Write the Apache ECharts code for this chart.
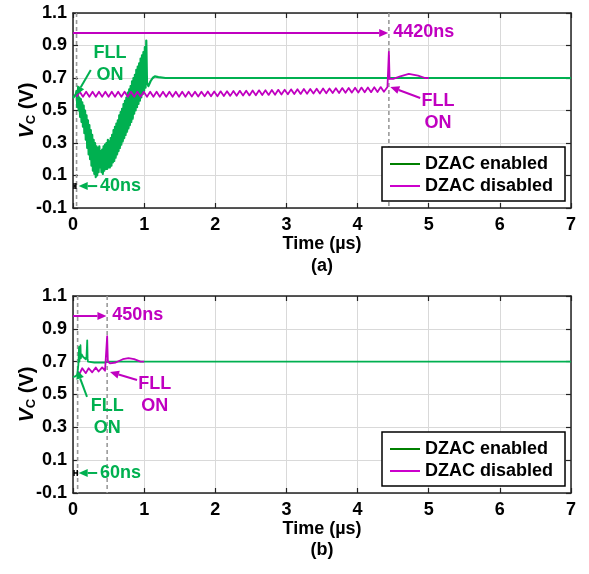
<!DOCTYPE html>
<html><head><meta charset="utf-8">
<script src="https://cdn.jsdelivr.net/npm/echarts@6/dist/echarts.min.js"></script>
<style>html,body{margin:0;padding:0;background:#fff}#c{width:589px;height:574px}</style>
</head><body><div id="c"></div>
<script>
// ---------- data ----------
const xTicks = [0, 1, 2, 3, 4, 5, 6, 7];
const yTicks = [-0.1, 0.1, 0.3, 0.5, 0.7, 0.9, 1.1];
const seriesNames = ['DZAC enabled', 'DZAC disabled'];

// (a) DZAC enabled  [time µs, Vc V]
const enabledA = [
  [0,0.577],[0.02,0.585],[0.04,0.6],
  [0.05,0.62],[0.06,0.52],[0.07,0.60],[0.08,0.50],[0.09,0.58],[0.10,0.46],[0.11,0.57],[0.12,0.43],
  [0.13,0.55],[0.14,0.40],[0.15,0.53],[0.16,0.36],[0.17,0.50],[0.18,0.32],[0.19,0.47],[0.20,0.27],
  [0.21,0.44],[0.22,0.23],[0.23,0.41],[0.24,0.20],[0.25,0.38],[0.26,0.16],[0.27,0.35],[0.28,0.13],
  [0.29,0.32],[0.30,0.11],[0.31,0.30],[0.32,0.09],[0.33,0.28],[0.34,0.10],[0.35,0.27],[0.36,0.12],
  [0.37,0.28],[0.38,0.15],[0.39,0.25],[0.40,0.12],[0.41,0.26],[0.42,0.11],[0.43,0.28],[0.44,0.13],
  [0.45,0.29],[0.46,0.14],[0.47,0.30],[0.48,0.14],[0.49,0.32],[0.50,0.15],
  [0.51,0.31],[0.52,0.15],[0.53,0.33],[0.54,0.16],[0.55,0.35],[0.56,0.18],[0.57,0.38],[0.58,0.19],
  [0.59,0.40],[0.60,0.21],[0.61,0.42],[0.62,0.23],[0.63,0.44],[0.64,0.25],[0.65,0.47],[0.66,0.27],
  [0.67,0.49],[0.68,0.29],[0.69,0.51],[0.70,0.31],[0.71,0.54],[0.72,0.33],[0.73,0.56],[0.74,0.35],
  [0.75,0.58],[0.76,0.37],[0.77,0.61],[0.78,0.39],[0.79,0.63],[0.80,0.41],[0.81,0.65],[0.82,0.43],
  [0.83,0.68],[0.84,0.45],[0.85,0.70],[0.86,0.48],[0.87,0.72],[0.88,0.50],[0.89,0.75],[0.90,0.52],
  [0.91,0.77],[0.92,0.54],[0.93,0.79],[0.94,0.56],[0.95,0.82],[0.96,0.58],[0.97,0.84],[0.98,0.60],
  [0.99,0.86],[1.00,0.62],[1.01,0.89],[1.02,0.64],[1.03,0.93],[1.04,0.67],[1.06,0.65],[1.09,0.68],
  [1.12,0.70],[1.15,0.71],[1.2,0.705],[1.3,0.70],[7,0.70]
];
// (a) DZAC disabled
const disabledA = [
  [0.050,0.585],[0.095,0.615],[0.140,0.585],[0.185,0.615],[0.230,0.585],[0.275,0.615],[0.320,0.585],
  [0.365,0.615],[0.410,0.585],[0.455,0.615],[0.500,0.585],[0.545,0.615],[0.590,0.585],[0.635,0.615],
  [0.680,0.585],[0.725,0.615],[0.770,0.585],[0.815,0.615],[0.860,0.585],[0.905,0.615],[0.950,0.585],
  [0.995,0.615],[1.040,0.585],[1.085,0.615],[1.130,0.585],[1.175,0.615],[1.220,0.585],[1.265,0.615],
  [1.310,0.585],[1.355,0.615],[1.400,0.585],[1.445,0.615],[1.490,0.585],[1.535,0.615],[1.580,0.585],
  [1.625,0.615],[1.670,0.586],[1.715,0.616],[1.760,0.586],[1.805,0.616],[1.850,0.587],[1.895,0.617],
  [1.940,0.587],[1.985,0.617],[2.030,0.588],[2.075,0.618],[2.120,0.589],[2.165,0.619],[2.210,0.590],
  [2.255,0.620],[2.300,0.591],[2.345,0.621],[2.390,0.592],[2.435,0.622],[2.480,0.593],[2.525,0.623],
  [2.570,0.594],[2.615,0.624],[2.660,0.595],[2.705,0.625],[2.750,0.596],[2.795,0.626],[2.840,0.597],
  [2.885,0.627],[2.930,0.598],[2.975,0.628],[3.020,0.600],[3.065,0.630],[3.110,0.601],[3.155,0.631],
  [3.200,0.602],[3.245,0.632],[3.290,0.603],[3.335,0.633],[3.380,0.604],[3.425,0.634],[3.470,0.605],
  [3.515,0.635],[3.560,0.606],[3.605,0.636],[3.650,0.607],[3.695,0.637],[3.740,0.608],[3.785,0.638],
  [3.830,0.609],[3.875,0.639],[3.920,0.610],[3.965,0.640],[4.010,0.611],[4.055,0.641],[4.100,0.612],
  [4.145,0.642],[4.190,0.613],[4.235,0.643],[4.280,0.614],[4.325,0.644],[4.370,0.615],[4.420,0.645],
  [4.44,0.86],[4.45,0.695],[4.5,0.695],[4.6,0.71],[4.72,0.725],[4.85,0.715],[4.95,0.70],[5.0,0.70]
];
// (b) DZAC enabled
const enabledB = [
  [0,0.605],[0.03,0.61],[0.06,0.62],[0.075,0.68],[0.085,0.79],[0.09,0.70],[0.095,0.74],[0.105,0.80],
  [0.11,0.72],[0.12,0.745],[0.14,0.73],[0.16,0.72],[0.18,0.715],[0.19,0.73],[0.2,0.83],[0.205,0.72],
  [0.21,0.70],[0.3,0.695],[0.46,0.695],[0.5,0.70],[7,0.70]
];
// (b) DZAC disabled
const disabledB = [
  [0.065,0.64],[0.09,0.625],[0.13,0.66],[0.18,0.63],[0.22,0.66],[0.27,0.635],[0.32,0.665],[0.36,0.64],
  [0.41,0.665],[0.45,0.645],[0.47,0.655],[0.48,0.855],[0.49,0.70],[0.52,0.69],[0.6,0.695],[0.7,0.715],
  [0.78,0.722],[0.86,0.715],[0.95,0.70],[1.0,0.70]
];

// ---------- styles ----------
const FONT = '"Liberation Sans", Arial, sans-serif';
const GREEN = '#00b050', MAGENTA = '#c000c0';
const LEG_GREEN = '#008000', LEG_MAGENTA = '#cc00cc';
const GRIDS = [{top: 13, height: 195}, {top: 296, height: 197}];

function xAxes(g) {
  return [{
    gridIndex: g, type: 'value', min: 0, max: 7, interval: 1, position: 'bottom',
    axisLine: {onZero: false, lineStyle: {color: '#222', width: 1.5}},
    axisTick: {inside: true, length: 5, lineStyle: {color: '#222', width: 1.2}},
    axisLabel: {color: '#000', fontFamily: FONT, fontWeight: 'bold', fontSize: 18, margin: 8},
    splitLine: {show: true, lineStyle: {color: '#d9d9d9', width: 1}},
    name: 'Time (µs)', nameLocation: 'middle', nameGap: 27,
    nameTextStyle: {color: '#000', fontFamily: FONT, fontWeight: 'bold', fontSize: 18}
  }, {
    gridIndex: g, type: 'value', min: 0, max: 7, interval: 1, position: 'top',
    axisLine: {onZero: false, lineStyle: {color: '#222', width: 1.5}},
    axisTick: {inside: true, length: 5, lineStyle: {color: '#222', width: 1.2}},
    axisLabel: {show: false}, splitLine: {show: false}
  }];
}
function yAxes(g) {
  const common = {
    gridIndex: g, type: 'value', min: -0.1, max: 1.1,
    axisLine: {onZero: false, lineStyle: {color: '#222', width: 1.5}},
    axisTick: {inside: true, length: 5, customValues: yTicks, lineStyle: {color: '#222', width: 1.2}}
  };
  return [Object.assign({}, common, {
    position: 'left',
    axisLabel: {customValues: yTicks, color: '#000', fontFamily: FONT, fontWeight: 'bold', fontSize: 18, margin: 6,
      formatter: v => v.toFixed(1)},
    splitLine: {show: true, lineStyle: {color: '#d9d9d9', width: 1}},
    name: '{v|V}{c|C}{n| (V)}', nameLocation: 'middle', nameGap: 35, nameRotate: 90, nameMoveOverlap: false,
    nameTextStyle: {rich: {
      v: {fontFamily: FONT, fontWeight: 'bold', fontStyle: 'italic', fontSize: 21, color: '#000'},
      c: {fontFamily: FONT, fontWeight: 'bold', fontSize: 13, color: '#000', verticalAlign: 'bottom', padding: [6, 0, 0, 0]},
      n: {fontFamily: FONT, fontWeight: 'bold', fontSize: 20, color: '#000'}
    }}
  }), Object.assign({}, common, {
    position: 'right', axisLabel: {show: false}, splitLine: {show: false}
  })];
}
function legend(g, top) {
  return {
    show: true, orient: 'vertical', left: 382, top: top, width: 183,
    backgroundColor: '#fff', borderColor: '#000', borderWidth: 1.5,
    padding: [8, 12, 6, 8], itemGap: 4, itemWidth: 30, itemHeight: 2,
    selectedMode: false,
    textStyle: {color: '#000', fontFamily: FONT, fontWeight: 'bold', fontSize: 18, lineHeight: 18},
    data: [
      {name: seriesNames[0], icon: 'rect', itemStyle: {color: LEG_GREEN}},
      {name: seriesNames[1], icon: 'rect', itemStyle: {color: LEG_MAGENTA}}
    ]
  };
}
function line(name, data, color, g, w) {
  return {
    name, type: 'line', data, xAxisIndex: 2 * g, yAxisIndex: 2 * g, showSymbol: false, symbol: 'none',
    lineStyle: {color, width: w || 1.8, join: 'round'}, itemStyle: {color}, animation: false, z: 3
  };
}

const chart = echarts.init(document.getElementById('c'), null, {renderer: 'canvas'});
chart.setOption({
  animation: false,
  backgroundColor: '#fff',
  grid: GRIDS.map(g => ({left: 73, right: 18, top: g.top, height: g.height, containLabel: false})),
  xAxis: [].concat(xAxes(0), xAxes(1)),
  yAxis: [].concat(yAxes(0), yAxes(1)),
  legend: [legend(0, 147), legend(1, 432)],
  series: [
    line(seriesNames[0], enabledA, GREEN, 0, 2.2),
    line(seriesNames[1], disabledA, MAGENTA, 0),
    line(seriesNames[0], enabledB, GREEN, 1),
    line(seriesNames[1], disabledB, MAGENTA, 1)
  ]
});

// ---------- annotations (data coordinates, placed through the chart's scales) ----------
const annotations = [
  {g: 0, dashed: [0.05, 4.44],
   hArrow: {from: [0, 0.977], to: [4.43, 0.977], label: '4420ns', at: [4.50, 0.983]},
   greenTxt: [0.52, 0.783], greenArrow: [[0.25, 0.749], [0.045, 0.595]],
   magTxt: [5.13, 0.488], magArrow: [[4.88, 0.577], [4.46, 0.645]],
   span: {t1: 0.04, v: 0.035, label: '40ns', arrowFrom: 0.34, arrowTo: 0.08, textAt: 0.38}},
  {g: 1, dashed: [0.065, 0.48],
   hArrow: {from: [0, 0.978], to: [0.47, 0.978], label: '450ns', at: [0.55, 0.984]},
   greenTxt: [0.48, 0.363], greenArrow: [[0.197, 0.485], [0.056, 0.649]],
   magTxt: [1.15, 0.494], magArrow: [[0.90, 0.588], [0.52, 0.637]],
   span: {t1: 0.06, v: 0.022, label: '60ns', arrowFrom: 0.34, arrowTo: 0.08, textAt: 0.38}}
];
const els = [];
const px = (g, p) => chart.convertToPixel({gridIndex: g}, p);
function arrow(a, b, color, head = 9, w = 4) {
  const dx = b[0] - a[0], dy = b[1] - a[1], L = Math.hypot(dx, dy), ux = dx / L, uy = dy / L;
  const bx = b[0] - ux * head, by = b[1] - uy * head;
  els.push({type: 'line', z: 50, shape: {x1: a[0], y1: a[1], x2: bx, y2: by}, style: {stroke: color, lineWidth: 2}});
  els.push({type: 'polygon', z: 50, shape: {points: [[b[0], b[1]], [bx - uy * w, by + ux * w], [bx + uy * w, by - ux * w]]},
    style: {fill: color}});
}
function text(p, str, color, align) {
  els.push({type: 'text', z: 50, x: p[0], y: p[1], style: {text: str, fill: color,
    font: 'bold 18px ' + FONT, align: align || 'center', verticalAlign: 'middle', lineHeight: 22}});
}
annotations.forEach(a => {
  const g = a.g;
  const top = px(g, [0, 1.1])[1], bot = px(g, [0, -0.1])[1];
  a.dashed.forEach(t => {
    const x = px(g, [t, 0])[0];
    els.push({type: 'line', z: 1, shape: {x1: x, y1: top, x2: x, y2: bot},
      style: {stroke: '#9a9a9a', lineWidth: 1.6, lineDash: [4, 3]}});
  });
  arrow(px(g, a.hArrow.from), px(g, a.hArrow.to), MAGENTA);
  text(px(g, a.hArrow.at), a.hArrow.label, MAGENTA, 'left');
  text(px(g, a.greenTxt), 'FLL\nON', GREEN);
  arrow(px(g, a.greenArrow[0]), px(g, a.greenArrow[1]), GREEN);
  text(px(g, a.magTxt), 'FLL\nON', MAGENTA);
  arrow(px(g, a.magArrow[0]), px(g, a.magArrow[1]), MAGENTA);
  const s = a.span;
  const p0 = px(g, [0, s.v]), p1 = px(g, [s.t1, s.v]);
  els.push({type: 'line', z: 50, shape: {x1: p0[0] + 1, y1: p0[1], x2: p1[0], y2: p1[1]}, style: {stroke: '#000', lineWidth: 1.5}});
  els.push({type: 'line', z: 50, shape: {x1: p0[0] + 1, y1: p0[1] - 3, x2: p0[0] + 1, y2: p0[1] + 3}, style: {stroke: '#000', lineWidth: 1.5}});
  els.push({type: 'line', z: 50, shape: {x1: p1[0], y1: p1[1] - 3, x2: p1[0], y2: p1[1] + 3}, style: {stroke: '#000', lineWidth: 1.5}});
  arrow(px(g, [s.arrowFrom, s.v]), px(g, [s.arrowTo, s.v]), GREEN);
  text(px(g, [s.textAt, s.v]), s.label, GREEN, 'left');
});
const xMid = px(0, [3.5, 0])[0];
els.push({type: 'text', x: xMid, y: 266, style: {text: '(a)', fill: '#000', font: 'bold 18px ' + FONT, align: 'center', verticalAlign: 'middle'}});
els.push({type: 'text', x: xMid, y: 550, style: {text: '(b)', fill: '#000', font: 'bold 18px ' + FONT, align: 'center', verticalAlign: 'middle'}});
chart.setOption({graphic: {elements: els}});
</script>
</body></html>
